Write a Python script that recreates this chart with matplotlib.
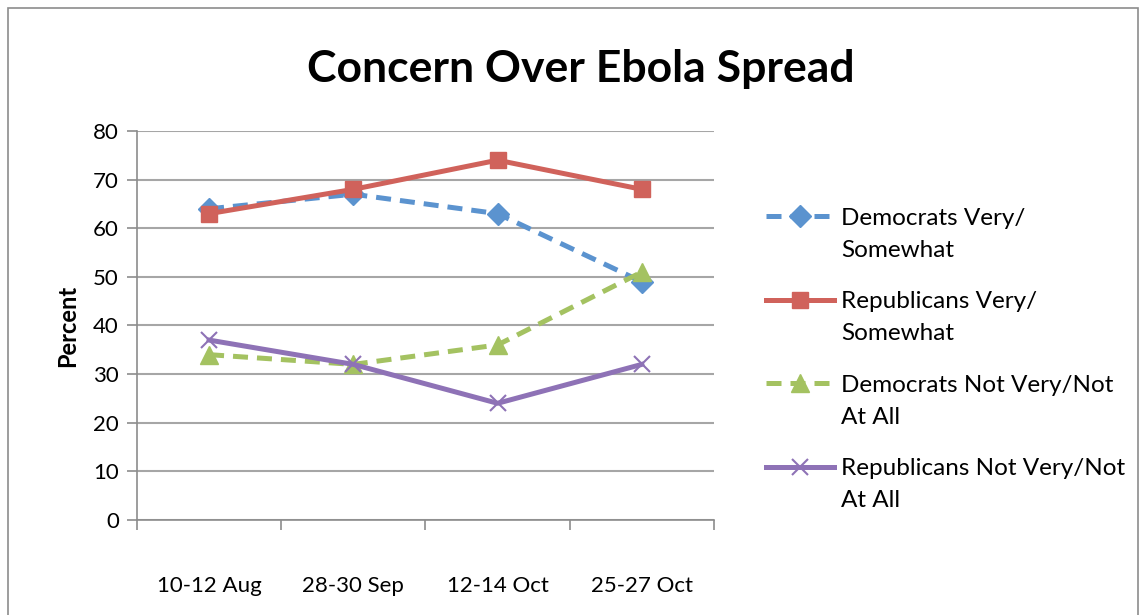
import matplotlib
matplotlib.use("Agg")
import matplotlib.pyplot as plt
from matplotlib.patches import Rectangle

plt.rcParams['font.family'] = ['Lato', 'DejaVu Sans']

dates = ['10-12 Aug', '28-30 Sep', '12-14 Oct', '25-27 Oct']
dem_very = [64, 67, 63, 49]
rep_very = [63, 68, 74, 68]
dem_not = [34, 32, 36, 51]
rep_not = [37, 32, 24, 32]
names = [('Democrats Very/', 'Somewhat'),
         ('Republicans Very/', 'Somewhat'),
         ('Democrats Not Very/Not', 'At All'),
         ('Republicans Not Very/Not', 'At All')]

fig = plt.figure(figsize=(11.46, 6.15), dpi=100)
ax = fig.add_axes([0.1195, 0.1545, 0.5035, 0.6325])

# outer chart border
fig.patches.append(Rectangle((8 / 1146, -0.1), 1130 / 1146, 1.1 - 8 / 615,
                             transform=fig.transFigure, fill=False,
                             edgecolor='#8c8c8c', linewidth=1.2))

x = list(range(len(dates)))
l1, = ax.plot(x, dem_very, color='#5B93CF', lw=3.6, ls=(0, (3, 1.8)),
              marker='D', ms=11, label=names[0][0])
l2, = ax.plot(x, rep_very, color='#D0625B', lw=3.6, ls='-',
              marker='s', ms=11, label=names[1][0])
l3, = ax.plot(x, dem_not, color='#A4C261', lw=3.6, ls=(0, (3, 1.8)),
              marker='^', ms=13, label=names[2][0])
l4, = ax.plot(x, rep_not, color='#8E72B6', lw=3.6, ls='-',
              marker='x', ms=12, mew=1.5, label=names[3][0])

ax.set_xlim(-0.5, 3.5)
ax.set_ylim(0, 80)
ax.set_yticks(range(0, 81, 10))
ax.set_xticks([-0.5, 0.5, 1.5, 2.5, 3.5])
ax.set_xticklabels([])
ax.set_xticks(x, minor=True)
ax.set_xticklabels(dates, minor=True)
ax.tick_params(axis='x', which='minor', length=0, pad=40, labelsize=16)
ax.tick_params(axis='x', which='major', length=7, width=1.2, color='#8c8c8c', direction='out')
ax.tick_params(axis='y', length=7, width=1.2, color='#8c8c8c', labelsize=16, pad=6)

ax.grid(axis='y', color='#a6a6a6', lw=1.5)
ax.set_axisbelow(True)
for s in ['top', 'right']:
    ax.spines[s].set_visible(False)
for s in ['left', 'bottom']:
    ax.spines[s].set_color('#8c8c8c')
    ax.spines[s].set_linewidth(1.2)

ax.set_ylabel('Percent', fontsize=17, fontweight='bold', labelpad=10)
fig.text(0.507, 0.888, 'Concern Over Ebola Spread', ha='center', va='center',
         fontsize=32, fontweight='bold')

# legend shows the first line of each name next to its handle,
# the second line goes underneath
leg = ax.legend(handles=[l1, l2, l3, l4], loc='upper left',
                bbox_to_anchor=(756 / 1146, 1 - 198 / 615), bbox_transform=fig.transFigure,
                frameon=False, fontsize=17.5, handlelength=2.8, labelspacing=2.57,
                handletextpad=0.3, borderaxespad=0)
fig.canvas.draw()
W, H = fig.bbox.width, fig.bbox.height
for t, (_, second) in zip(leg.get_texts(), names):
    bb = t.get_window_extent()
    fig.text(bb.x0 / W, (bb.y0 - 32) / H, second, ha='left', va='bottom',
             fontsize=17.5)

fig.savefig('out.png', dpi=100)
